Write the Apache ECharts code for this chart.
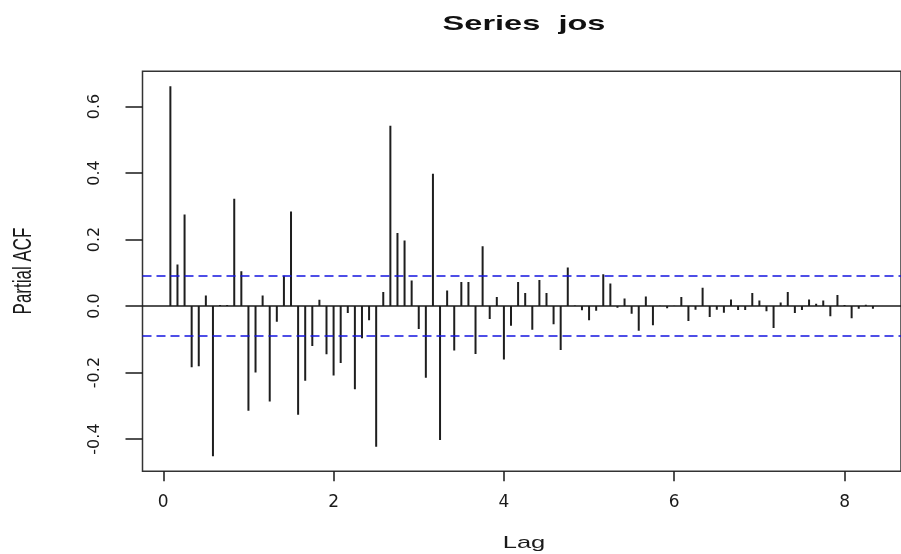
<!DOCTYPE html>
<html>
<head>
<meta charset="utf-8">
<script src="https://cdn.jsdelivr.net/npm/echarts@6/dist/echarts.min.js"></script>
<style>
  html, body { margin: 0; padding: 0; background: #fff; }
  #main { width: 901px; height: 554px; }
</style>
</head>
<body>
<div id="main"></div>
<script>
// partial autocorrelations, lags 1..100 (monthly series, lag = k/12)
var pacfVals = [
  0.661, 0.125, 0.275, -0.184, -0.181, 0.032, -0.452, 0.003, 0.003, 0.323,
  0.105, -0.315, -0.200, 0.032, -0.287, -0.047, 0.091, 0.284, -0.327, -0.225,
  -0.120, 0.019, -0.145, -0.209, -0.171, -0.021, -0.250, -0.097, -0.043, -0.423,
  0.042, 0.542, 0.220, 0.197, 0.077, -0.069, -0.216, 0.398, -0.403, 0.047,
  -0.134, 0.072, 0.072, -0.144, 0.180, -0.039, 0.027, -0.161, -0.059, 0.072,
  0.039, -0.071, 0.078, 0.039, -0.055, -0.132, 0.116, 0.002, -0.013, -0.043,
  -0.014, 0.096, 0.068, -0.005, 0.023, -0.023, -0.074, 0.029, -0.058, 0.001,
  -0.007, 0.001, 0.027, -0.045, -0.011, 0.055, -0.033, -0.011, -0.020, 0.020,
  -0.012, -0.012, 0.039, 0.017, -0.016, -0.066, 0.011, 0.042, -0.021, -0.012,
  0.020, 0.007, 0.017, -0.031, 0.033, 0.003, -0.037, -0.008, 0.004, -0.008
];
var lagFreq = 12;
var confBound = 0.092;
var xTicks = [0, 2, 4, 6, 8];
var yTicks = [-0.4, -0.2, 0.0, 0.2, 0.4, 0.6];

var pacfData = pacfVals.map(function (v, i) {
  return [(i + 1) / lagFreq, v];
});

var myChart = echarts.init(document.getElementById("main"));

var ink = "#1a1a1a";

myChart.setOption({
  animation: false,
  backgroundColor: "#fff",
  grid: {
    left: 142.5, top: 71.3, width: 768, height: 400,
    show: true, borderColor: "#333", borderWidth: 1.5, backgroundColor: "transparent"
  },
  xAxis: {
    type: "value", min: -0.244, max: 8.663,
    splitLine: { show: false },
    axisLine: { show: false, onZero: false },
    axisTick: { show: true, length: 10, customValues: xTicks, lineStyle: { color: ink, width: 1.5 } },
    axisLabel: {
      customValues: xTicks, margin: 23, color: ink,
      fontFamily: "DejaVu Sans", fontSize: 17,
      formatter: function (v) { return String(v); }
    }
  },
  yAxis: {
    type: "value", min: -0.497, max: 0.706,
    splitLine: { show: false },
    axisLine: { show: false, onZero: false },
    axisTick: { show: true, length: 17, customValues: yTicks, lineStyle: { color: ink, width: 1.5 } },
    axisLabel: {
      customValues: yTicks, margin: 40, rotate: 90, color: ink,
      fontFamily: "DejaVu Sans", fontSize: 16,
      formatter: function (v) { return v.toFixed(1); }
    }
  },
  series: [{
    type: "custom",
    data: pacfData,
    clip: true,
    renderItem: function (params, api) {
      var p0 = api.coord([api.value(0), 0]);
      var p1 = api.coord([api.value(0), api.value(1)]);
      return {
        type: "line",
        shape: { x1: p0[0], y1: p0[1], x2: p1[0], y2: p1[1] },
        style: { stroke: "#1e1e1e", lineWidth: 2 }
      };
    },
    markLine: {
      silent: true, symbol: "none", label: { show: false },
      data: [
        { yAxis: 0, lineStyle: { color: ink, width: 1.5, type: "solid" } },
        { yAxis: confBound, lineStyle: { color: "#1515e0", width: 1.5, type: [9, 5] } },
        { yAxis: -confBound, lineStyle: { color: "#1515e0", width: 1.5, type: [9, 5] } }
      ]
    }
  }],
  graphic: [
    {
      type: "text", x: 524, y: 24, scaleX: 1.55,
      style: {
        text: "Series  jos", fill: "#111",
        font: "bold 21px 'Liberation Sans', Arial, sans-serif",
        align: "center", verticalAlign: "middle",
        textAlign: "center", textVerticalAlign: "middle"
      }
    },
    {
      type: "text", x: 524, y: 543, scaleX: 1.5,
      style: {
        text: "Lag", fill: ink,
        font: "17px 'Liberation Sans', Arial, sans-serif",
        align: "center", verticalAlign: "middle",
        textAlign: "center", textVerticalAlign: "middle"
      }
    },
    {
      type: "text", x: 24, y: 271, rotation: Math.PI / 2, scaleY: 1.5,
      style: {
        text: "Partial ACF", fill: ink,
        font: "17px 'Liberation Sans', Arial, sans-serif",
        align: "center", verticalAlign: "middle",
        textAlign: "center", textVerticalAlign: "middle"
      }
    }
  ]
});
</script>
</body>
</html>
